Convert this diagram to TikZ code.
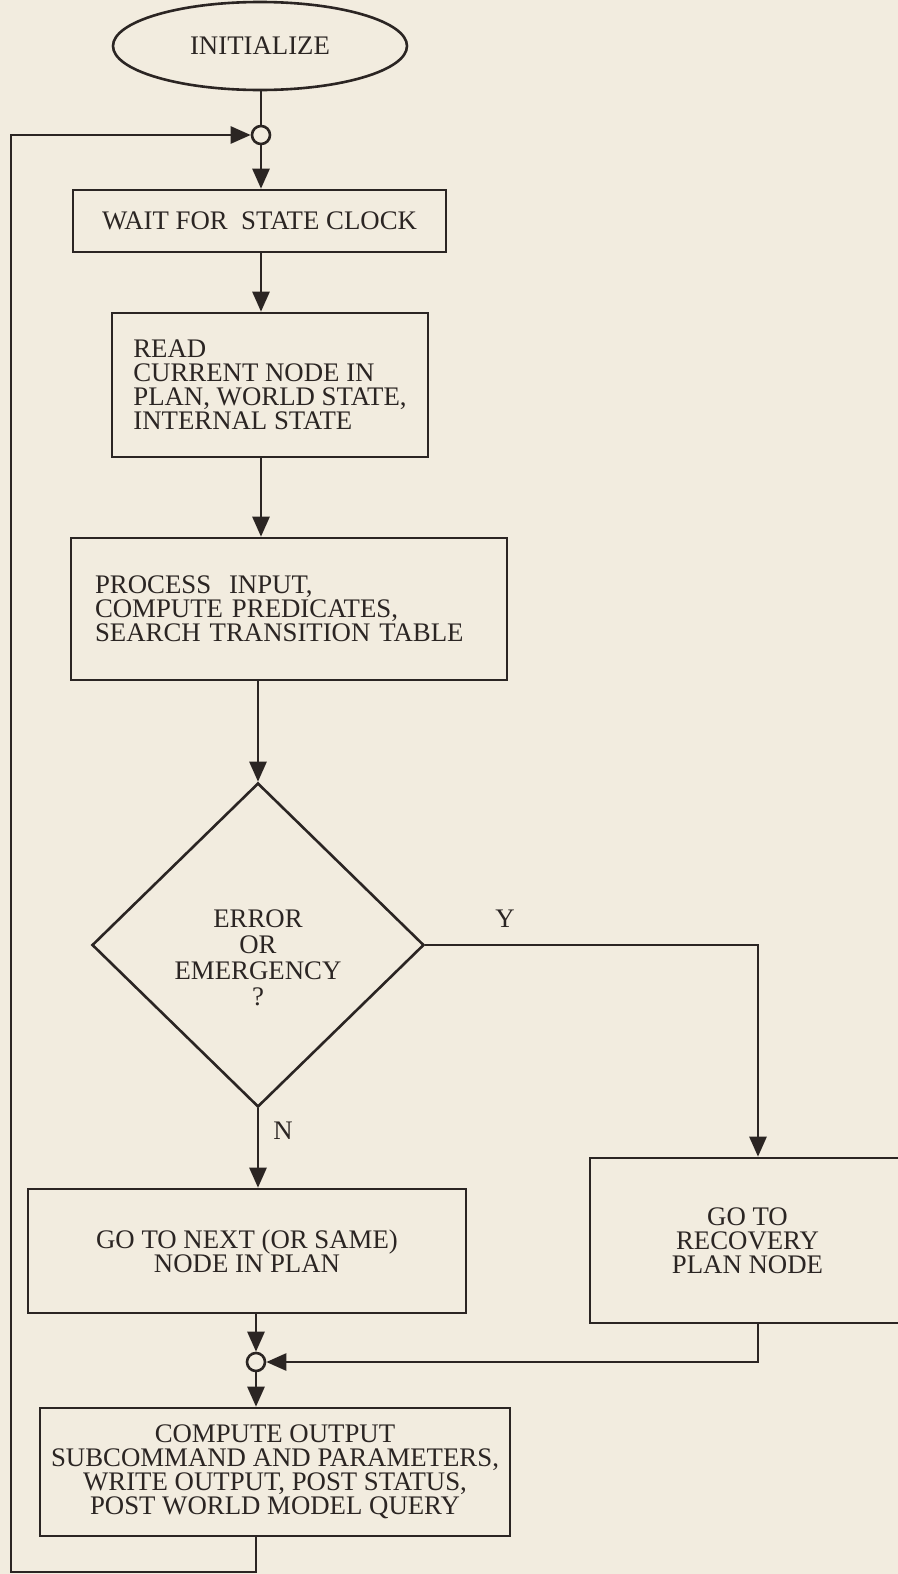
\documentclass[tikz,border=0pt]{standalone}
\usepackage{fontspec}
\setmainfont{Liberation Serif}
\usetikzlibrary{shapes.geometric,arrows.meta}
\definecolor{paper}{HTML}{F2ECDF}
\definecolor{ink}{HTML}{2B2523}

\begin{document}
\begin{tikzpicture}[x=0.5pt,y=-0.5pt,color=ink,line width=1.3pt,
    every node/.style={text=ink,font=\fontsize{13.4}{12}\selectfont},
    box/.style={draw,rectangle,inner sep=0pt,align=center},
    junc/.style={draw,circle,fill=paper,minimum size=9pt,inner sep=0pt},
    arr/.style={-{Triangle[length=10pt,width=8.5pt]}}]
  \path[use as bounding box,fill=paper] (0,0) rectangle (898,1574);

  % main column
  \node[draw,ellipse,minimum width=147pt,minimum height=44pt,inner sep=0pt] (init) at (260,46) {INITIALIZE};
  \node[junc] (j1) at (261,135) {};
  \node[box,minimum width=186.5pt,minimum height=31pt] (wait) at (259.5,221) {WAIT\ FOR\ \ STATE CLOCK};
  \node[box,align=left,minimum width=158pt,minimum height=72pt] (read) at (270,385)
    {READ\\CURRENT NODE IN\\PLAN, WORLD STATE,\\INTERNAL STATE};
  \node[box,align=left,text width=194pt,inner xsep=12pt,minimum height=71pt] (proc) at (289,609)
    {PROCESS\ \ INPUT,\\COMPUTE PREDICATES,\\SEARCH TRANSITION TABLE};
  \node[draw,diamond,minimum width=166pt,minimum height=162pt,inner sep=0pt,align=center,
    font=\fontsize{13.4}{13}\selectfont] (dec) at (258,945)
    {\strut\\ERROR\\OR\\EMERGENCY\\?};
  \node[box,minimum width=219pt,minimum height=62pt] (next) at (247,1251) {GO TO NEXT (OR SAME)\\NODE IN PLAN};
  \node[box,minimum width=157.5pt,minimum height=82.5pt] (rec) at (747.5,1240.5) {GO TO\\RECOVERY\\PLAN NODE};
  \node[junc] (j2) at (256,1362) {};
  \node[box,minimum width=235pt,minimum height=64pt] (comp) at (275,1472)
    {COMPUTE OUTPUT\\SUBCOMMAND AND PARAMETERS,\\WRITE OUTPUT, POST STATUS,\\POST WORLD MODEL QUERY};

  \coordinate (ycor) at (758,946);
  \coordinate (loop) at (11,1572);

  % connectors
  \draw (init.south -| j1) -- (j1);
  \draw[arr] (j1) -- (wait.north -| j1);
  \draw[arr] (wait.south -| j1) -- (read.north -| j1);
  \draw[arr] (read.south -| j1) -- (proc.north -| j1);
  \draw[arr] (proc.south -| dec) -- (dec.north);
  \draw[arr] (dec.east) -- node[pos=.24,above=8pt,inner sep=0pt] {Y} (dec.east -| ycor) -- (rec.north -| ycor);
  \draw[arr] (dec.south) -- node[pos=.28,right=7pt,inner sep=0pt] {N} (next.north -| dec);
  \draw[arr] (next.south -| j2) -- (j2);
  \draw[arr] (rec.south -| ycor) |- (j2);
  \draw[arr] (j2) -- (comp.north -| j2);
  \draw[arr] (comp.south -| j2) |- (loop) |- (j1);
\end{tikzpicture}
\end{document}
